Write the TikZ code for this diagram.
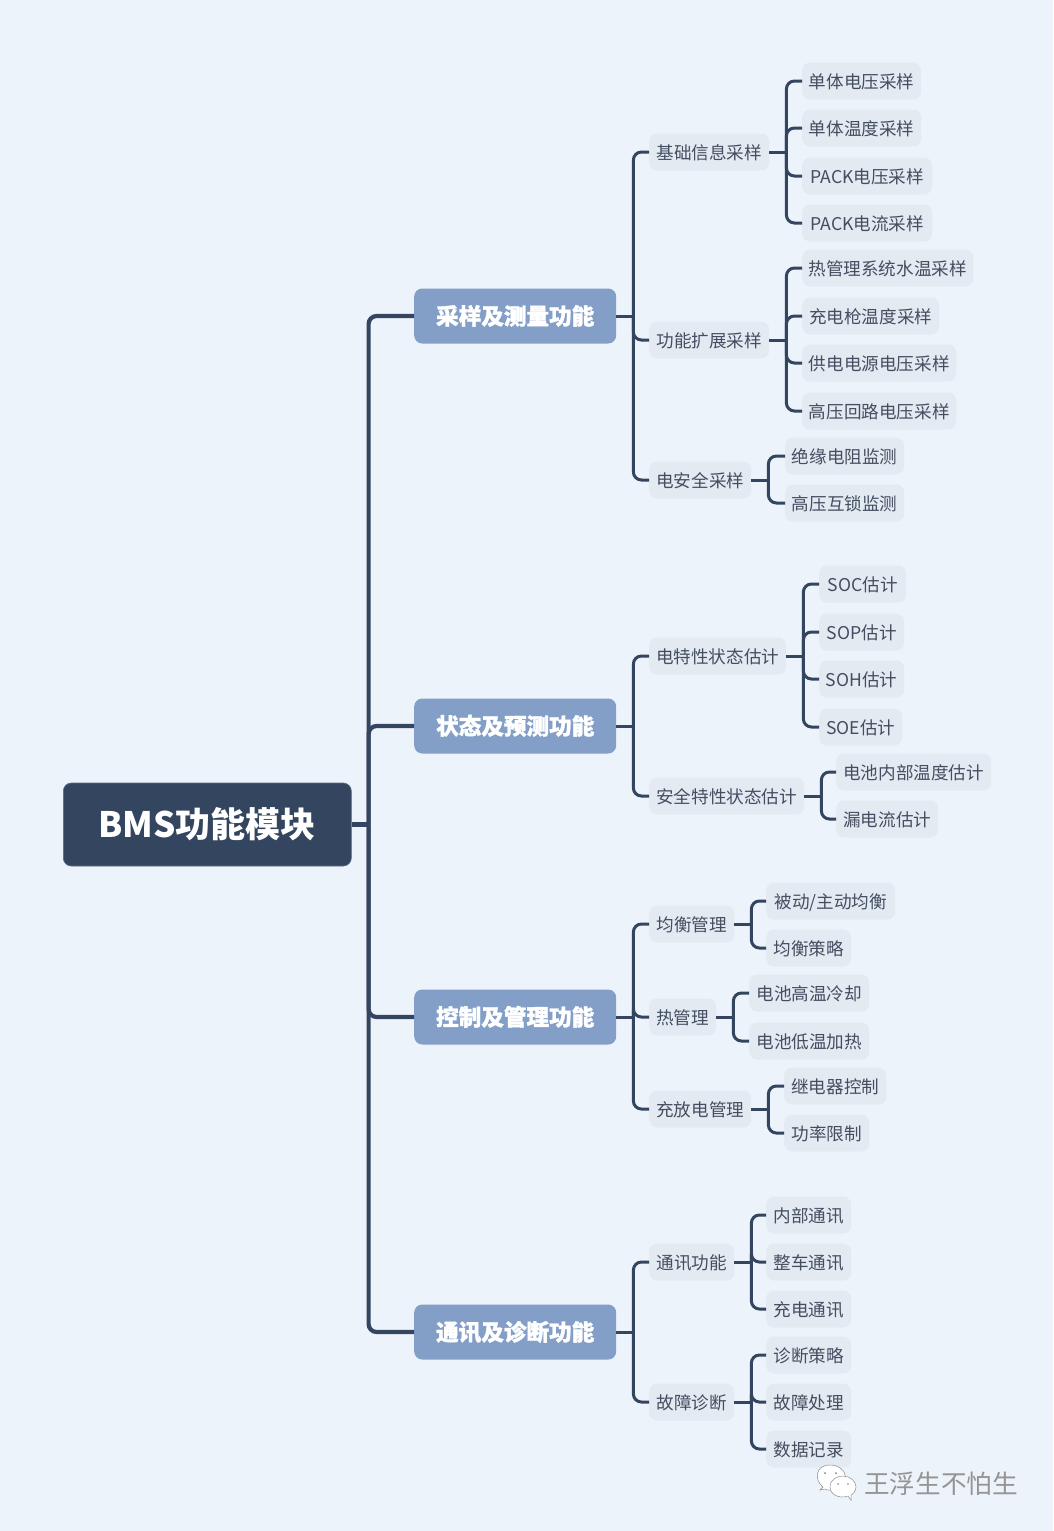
\documentclass[tikz,border=0pt]{standalone}
\usepackage{fontspec}
\setmainfont{Noto Sans CJK SC}
\newfontfamily\fatfont[BoldFeatures={FakeBold=1.3}]{Noto Sans CJK SC}
\usetikzlibrary{calc}
\definecolor{bgc}{HTML}{EDF3FA}
\definecolor{navy}{HTML}{34465F}
\definecolor{steel}{HTML}{839FC8}
\definecolor{pale}{HTML}{E4EAF2}
\definecolor{ink}{HTML}{434E60}
\tikzset{
  x=1pt,y=-1pt,
  rootbox/.style={fill=navy,draw=navy!80,line width=0.6pt,text=white,rounded corners=8pt,inner sep=0pt,font=\fontsize{35}{38}\selectfont\bfseries,text height=27pt,text depth=2pt},
  mainbox/.style={fill=steel,text=white,rounded corners=8pt,inner sep=0pt,font=\fontsize{22.6}{26}\selectfont\fatfont\bfseries,text height=19pt,text depth=2pt},
  subbox/.style={fill=pale,text=ink,rounded corners=8pt,inner sep=0pt,font=\fontsize{17.6}{20}\selectfont,text height=16pt,text depth=1pt},
  thick link/.style={draw=navy,line width=4.2pt},
  thin link/.style={draw=navy,line width=3pt},
}
% name, left, right, centre y, height, style, text
\newcommand{\mmnode}[7]{%
  \pgfmathsetmacro{\mmw}{#3-#2}%
  \node[#6,anchor=west,minimum width=\mmw pt,minimum height=#5pt] (#1) at (#2,#4) {#7};}
\newcommand{\mmsub}[5]{\mmnode{#1}{#2}{#3}{#4}{37}{subbox}{#5}}
\newcommand{\mmmain}[3]{\mmnode{#1}{414}{616}{#2}{55}{mainbox}{#3}}
% parent, list of children, style
\newcommand{\mmlink}[3]{%
  \coordinate (#1-bus) at ($(#1.east)+(17,0)$);
  \draw[#3] (#1.east) -- (#1-bus);
  \foreach \mmc in {#2} {\draw[#3,rounded corners=8pt] (#1-bus) |- (\mmc.west);}}
\begin{document}
\begin{tikzpicture}
\path[use as bounding box,fill=bgc] (0,0) rectangle (1053,1531);
\mmnode{root}{63}{351}{824.5}{83}{rootbox}{BMS功能模块}
\mmmain{a}{316}{采样及测量功能}
\mmmain{b}{726}{状态及预测功能}
\mmmain{c}{1017}{控制及管理功能}
\mmmain{d}{1332}{通讯及诊断功能}

\mmsub{a1}{649}{769}{152}{基础信息采样}
\mmsub{a2}{649}{769}{340}{功能扩展采样}
\mmsub{a3}{649}{751}{480}{电安全采样}
\mmsub{a11}{802}{921}{81}{单体电压采样}
\mmsub{a12}{802}{921}{128}{单体温度采样}
\mmsub{a13}{802}{932}{176}{PACK电压采样}
\mmsub{a14}{802}{932}{223}{PACK电流采样}
\mmsub{a21}{802}{973}{268}{热管理系统水温采样}
\mmsub{a22}{802}{939}{316}{充电枪温度采样}
\mmsub{a23}{802}{956}{363}{供电电源电压采样}
\mmsub{a24}{802}{956}{411}{高压回路电压采样}
\mmsub{a31}{785}{904}{456}{绝缘电阻监测}
\mmsub{a32}{785}{904}{503}{高压互锁监测}

\mmsub{b1}{649}{786}{656}{电特性状态估计}
\mmsub{b2}{649}{804}{796}{安全特性状态估计}
\mmsub{b11}{819}{906}{584}{SOC估计}
\mmsub{b12}{819}{904}{632}{SOP估计}
\mmsub{b13}{819}{904}{679}{SOH估计}
\mmsub{b14}{819}{902}{727}{SOE估计}
\mmsub{b21}{836}{991}{772}{电池内部温度估计}
\mmsub{b22}{836}{938}{819}{漏电流估计}

\mmsub{c1}{649}{734}{924}{均衡管理}
\mmsub{c2}{649}{716}{1017}{热管理}
\mmsub{c3}{649}{751}{1109}{充放电管理}
\mmsub{c11}{766}{895}{901}{被动/主动均衡}
\mmsub{c12}{766}{851}{948}{均衡策略}
\mmsub{c21}{749}{869}{993}{电池高温冷却}
\mmsub{c22}{749}{869}{1041}{电池低温加热}
\mmsub{c31}{784}{886}{1086}{继电器控制}
\mmsub{c32}{784}{869}{1133}{功率限制}

\mmsub{d1}{649}{734}{1262}{通讯功能}
\mmsub{d2}{649}{734}{1402}{故障诊断}
\mmsub{d11}{766}{851}{1215}{内部通讯}
\mmsub{d12}{766}{851}{1262}{整车通讯}
\mmsub{d13}{766}{851}{1309}{充电通讯}
\mmsub{d21}{766}{851}{1355}{诊断策略}
\mmsub{d22}{766}{851}{1402}{故障处理}
\mmsub{d23}{766}{851}{1449}{数据记录}

\mmlink{root}{a,b,c,d}{thick link}
\mmlink{a}{a1,a2,a3}{thin link}
\mmlink{b}{b1,b2}{thin link}
\mmlink{c}{c1,c2,c3}{thin link}
\mmlink{d}{d1,d2}{thin link}
\mmlink{a1}{a11,a12,a13,a14}{thin link}
\mmlink{a2}{a21,a22,a23,a24}{thin link}
\mmlink{a3}{a31,a32}{thin link}
\mmlink{b1}{b11,b12,b13,b14}{thin link}
\mmlink{b2}{b21,b22}{thin link}
\mmlink{c1}{c11,c12}{thin link}
\mmlink{c2}{c21,c22}{thin link}
\mmlink{c3}{c31,c32}{thin link}
\mmlink{d1}{d11,d12,d13}{thin link}
\mmlink{d2}{d21,d22,d23}{thin link}

% watermark
\begin{scope}[draw=black!45,fill=white,line width=0.5pt]
  \filldraw (820,1490) -- (823,1487) .. controls (814,1480) and (815,1465) .. (830,1465) .. controls (842,1465) and (847,1474) .. (845,1481) .. controls (842,1489) and (830,1492) .. (825,1489) -- cycle;
  \filldraw (851,1500) -- (848,1496) .. controls (840,1499) and (830,1495) .. (830,1487) .. controls (830,1479) and (838,1476) .. (843,1476) .. controls (850,1476) and (856,1481) .. (856,1487) .. controls (856,1491) and (853,1494) .. (851,1495) -- cycle;
  \fill[black!50] (825,1473) circle (1) (836,1473) circle (1) (838,1484) circle (0.9) (848,1484) circle (0.9);
\end{scope}
\node[inner sep=0pt,anchor=west,text=black!42,font=\fontsize{25.6}{28}\selectfont] (mark) at (864,1484) {王浮生不怕生};
\end{tikzpicture}
\end{document}
